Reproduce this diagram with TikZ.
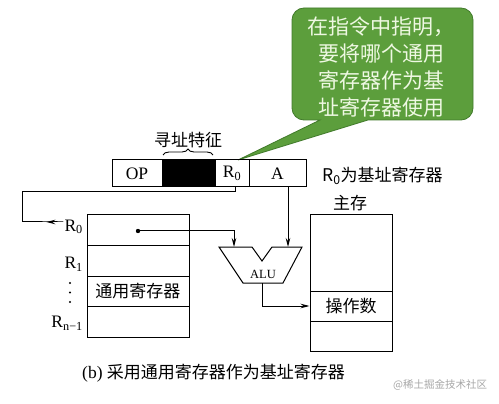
\documentclass[tikz,border=0pt]{standalone}
\usepackage{fontspec}
\setmainfont{Liberation Serif}
\newfontfamily\cjk{Noto Sans CJK SC}
\usetikzlibrary{arrows.meta,decorations.pathreplacing}
\definecolor{callfill}{HTML}{5C9E3C}
\definecolor{calldraw}{HTML}{417A2B}
\definecolor{calltext}{HTML}{EEF8E2}
\tikzset{
  box/.style={draw,line width=1pt,inner sep=0pt},
  wire/.style={line width=1pt},
  arr/.style={line width=1pt,-{Stealth[length=9pt,width=4.5pt]}},
  lat/.style={font=\fontsize{17.5}{20}\selectfont},
  cj/.style={font=\cjk\fontsize{17}{20}\selectfont},
}
\begin{document}
\begin{tikzpicture}[x=1pt,y=-1pt]
\useasboundingbox (0,0) rectangle (499,404);
% callout
\path[fill=callfill,draw=calldraw,line width=0.8pt]
  (304,8) -- (461,8) arc[start angle=-90,end angle=0,radius=12] -- (473,108)
  arc[start angle=0,end angle=90,radius=12] -- (368,120) -- (238,160) -- (320,120)
  -- (304,120) arc[start angle=90,end angle=180,radius=12] -- (292,20)
  arc[start angle=180,end angle=270,radius=12] -- cycle;
\node[align=center,text=calltext,font=\cjk\fontsize{21}{27}\selectfont] (call) at (381,67)
  {在指令中指明，\\要将哪个通用\\寄存器作为基\\址寄存器使用};
% instruction
\node[box,lat,minimum width=50pt,minimum height=27pt] (op) at (137,173.5) {OP};
\node[box,fill=black,minimum width=53pt,minimum height=27pt] (blk) at (188.5,173.5) {};
\node[box,lat,minimum width=34pt,minimum height=27pt] (r0f) at (232,173.5) {R\textsubscript{0}};
\node[box,lat,minimum width=57pt,minimum height=27pt] (af) at (277.5,173.5) {A};
\draw[line width=0.9pt,decorate,decoration={brace,amplitude=6pt}] (163,155) -- (213,155);
\node[cj] (feat) at (188,140) {寻址特征};
\node[cj,anchor=west,inner sep=0pt] (base) at (322,175.5) {\fontsize{17.5}{20}\selectfont R\textsubscript{0}\cjk\fontsize{17}{20}\selectfont 为基址寄存器};
% registers
\node[box,minimum width=102pt,minimum height=30.5pt] (g0) at (138,230.25) {};
\node[box,minimum width=102pt,minimum height=30.5pt] (g1) at (138,260.75) {};
\node[box,cj,minimum width=102pt,minimum height=30.5pt] (g2) at (138,291.25) {通用寄存器};
\node[box,minimum width=102pt,minimum height=30.5pt] (g3) at (138,321.75) {};
\node[lat,anchor=east,inner sep=1pt] (l0) at (84,227) {R\textsubscript{0}};
\node[lat,anchor=east,inner sep=1pt] (l1) at (84,264) {R\textsubscript{1}};
\node[lat,anchor=east,inner sep=1pt] (l3) at (84,323) {R\textsubscript{n−1}};
\foreach \yy [count=\i] in {283,292.5,302}
  \fill (70,\yy) circle (1.2pt);
% memory
\node[box,minimum width=82pt,minimum height=76pt] (m0) at (351,253) {};
\node[box,cj,minimum width=82pt,minimum height=30pt] (m1) at (351,306) {操作数};
\node[box,minimum width=82pt,minimum height=30pt] (m2) at (351,336) {};
\node[cj] (mlab) at (350,203) {主存};
% ALU
\draw[line width=1pt] (219,247) -- (252,247) -- (262,261) -- (272,247) -- (302,247)
  -- (283,283) -- (243,283) -- cycle;
\coordinate (aluL) at (234,247);
\coordinate (aluR) at (288,247);
\coordinate (aluO) at (262,283);
\node[font=\fontsize{12.5}{14}\selectfont] (alu) at (263,274) {ALU};
% connectors
\coordinate (d0) at (138,231);
\fill (d0) circle (2.2pt);
\draw[arr] (d0) -| (aluL);
\draw[arr] (af.south -| aluR) -- (aluR);
\draw[arr] (r0f.south -| 235,0) -- (235,192) -- (22,192) |- (l0.west |- 0,222) -- ++(-17,0);
\draw[arr] (aluO) |- (m1.west);
% caption
\node[anchor=west,inner sep=0pt,font=\fontsize{17.5}{20}\selectfont] (cap) at (82,373)
  {(b) {\cjk\fontsize{17}{20}\selectfont 采用通用寄存器作为基址寄存器}};
\node[anchor=west,inner sep=0pt,text=black!35,font=\cjk\fontsize{10.5}{12}\selectfont] (wm) at (393,385) {@稀土掘金技术社区};
\end{tikzpicture}
\end{document}
